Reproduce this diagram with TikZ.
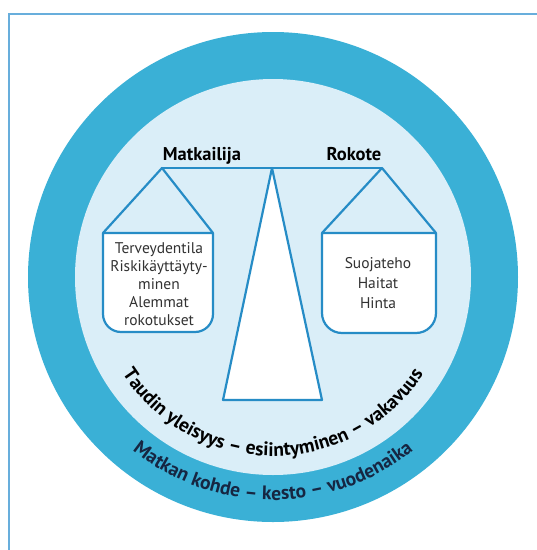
\documentclass[tikz,border=0pt]{standalone}
\usepackage{fontspec}
\setmainfont{PT Sans}
\usepackage{tikz}
\usetikzlibrary{decorations.text}
\definecolor{ringblue}{RGB}{58,176,214}
\definecolor{paleblue}{RGB}{218,238,248}
\definecolor{lineblue}{RGB}{38,140,198}
\definecolor{frameblue}{RGB}{104,174,220}
\definecolor{navytext}{RGB}{22,38,66}
\definecolor{pantext}{RGB}{50,50,50}

\begin{document}
\begin{tikzpicture}[
    x=1pt, y=1pt,
    important line/.style={line width=2.2pt, color=lineblue, line join=round},
    arm label/.style={anchor=base, font=\bfseries\fontsize{18.5}{20}\selectfont},
    pan text/.style={align=center, color=pantext, font=\fontsize{15.5}{17.8}\selectfont},
    ring text/.style={decorate, decoration={text along path, text align=center, text={#1}}}
    ]
    \useasboundingbox (0,0) rectangle (537,-550);

    % frame
    \draw[frameblue, line width=1.6pt] (9,-550) -- (9,-14) -- (537,-14);
    % rings
    \coordinate (C) at (273,-277);
    \fill[ringblue] (C) circle[radius=245];
    \fill[paleblue] (C) circle[radius=198];

    % define beam, pans and stand
    \coordinate (BL) at (162,-168);
    \coordinate (P) at (272,-168);
    \coordinate (BR) at (382,-168);
    \coordinate (L1) at (103,-233);
    \coordinate (L2) at (213,-233);
    \coordinate (R1) at (322,-233);
    \coordinate (R2) at (436,-233);
    \coordinate (S1) at (223,-400);
    \coordinate (S2) at (322,-400);
    % beam
    \draw[important line] (BL) -- (BR);
    % pans
    \draw[important line, fill=white] (L1) -- ++(0,-81) arc[start angle=180, end angle=270, radius=18]
        -- ++(74,0) arc[start angle=270, end angle=360, radius=18] -- (L2) -- cycle;
    \draw[important line] (L1) -- (BL) -- (L2);
    \draw[important line, fill=white] (R1) -- ++(0,-80) arc[start angle=180, end angle=270, radius=20]
        -- ++(74,0) arc[start angle=270, end angle=360, radius=20] -- (R2) -- cycle;
    \draw[important line] (R1) -- (BR) -- (R2);
    % stand
    \draw[important line, fill=white] (P) -- (S1) -- (S2) -- cycle;

    % labels
    \node[arm label] (traveller) at (202,-160) {Matkailija};
    \node[arm label] (vaccine) at (354,-160) {Rokote};
    \node[pan text] (travellerlist) at (159,-284)
        {Terveydentila\\Riskikäyttäyty-\\minen\\Alemmat\\rokotukset};
    \node[pan text, font=\fontsize{15.5}{20}\selectfont] (vaccinelist) at (378,-283)
        {Suojateho\\Haitat\\Hinta};

    % text round the rings
    \path[ring text={|\bfseries\fontsize{19.5}{20}\selectfont|Taudin yleisyys – esiintyminen – vakavuus}]
        ([shift={(C)}]195:179) arc[start angle=195, end angle=345, radius=179];
    \path[ring text={|\color{navytext}\bfseries\fontsize{19.5}{20}\selectfont|Matkan kohde – kesto – vuodenaika}]
        ([shift={(C)}]210:223) arc[start angle=210, end angle=330, radius=223];
\end{tikzpicture}
\end{document}
